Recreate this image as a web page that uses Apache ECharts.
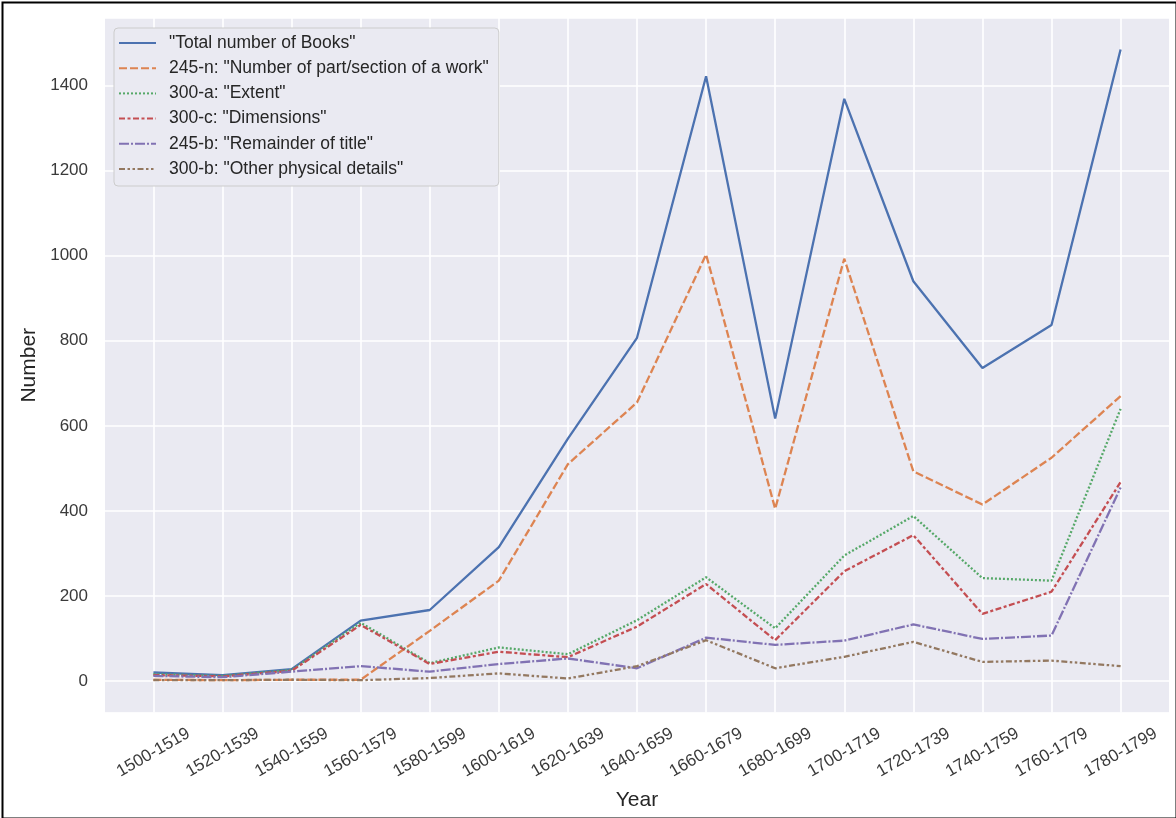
<!DOCTYPE html>
<html>
<head>
<meta charset="utf-8">
<script src="https://cdn.jsdelivr.net/npm/echarts@6/dist/echarts.min.js"></script>
<style>
html,body{margin:0;padding:0;background:#fff;}
#chart{width:1176px;height:818px;}
</style>
</head>
<body>
<div id="chart"></div>
<script>
// ---- data ----
const categories = ['1500-1519','1520-1539','1540-1559','1560-1579','1580-1599','1600-1619','1620-1639','1640-1659','1660-1679','1680-1699','1700-1719','1720-1739','1740-1759','1760-1779','1780-1799'];
const seriesNames = ['"Total number of Books"', '245-n: "Number of part/section of a work"', '300-a: "Extent"', '300-c: "Dimensions"', '245-b: "Remainder of title"', '300-b: "Other physical details"'];
const totalBooks   = [20, 14, 28, 142, 167, 315, 570, 807, 1422, 617, 1369, 940, 736, 837, 1485];
const partSection  = [3, 2, 3, 3, 118, 236, 510, 655, 1003, 405, 993, 493, 415, 525, 670];
const extent       = [16, 12, 26, 137, 42, 79, 63, 143, 244, 124, 295, 388, 242, 236, 640];
const dimensions   = [14, 11, 24, 132, 40, 69, 56, 128, 228, 96, 258, 343, 158, 210, 468];
const remainder    = [12, 9, 22, 35, 22, 40, 53, 30, 102, 85, 95, 133, 99, 107, 455];
const otherDetails = [2, 2, 3, 2, 7, 18, 6, 35, 96, 30, 57, 92, 45, 48, 35];
const yMin = -74, yMax = 1559;

// ---- styles ----
const colors = ['#4c72b0', '#dd8452', '#55a868', '#c44e52', '#8172b3', '#937860'];
const dashes = ['solid', [8, 3], [2, 2], [6, 2.5, 3, 2.5], [10, 2, 2, 2], [6, 2.5, 2.5, 2.5, 2.5, 2.5]];
const values = [totalBooks, partSection, extent, dimensions, remainder, otherDetails];
const FONT = '"Liberation Sans", Arial, sans-serif';

const chart = echarts.init(document.getElementById('chart'), null, {renderer: 'canvas'});

const series = values.map((v, i) => ({
  name: seriesNames[i],
  type: 'line',
  xAxisIndex: 1,
  yAxisIndex: 1,
  data: v,
  symbol: 'none',
  showSymbol: false,
  animation: false,
  lineStyle: {color: colors[i], width: 2.3, type: dashes[i]},
  itemStyle: {color: colors[i]},
  z: 3 + i
}));

chart.setOption({
  animation: false,
  backgroundColor: '#ffffff',
  textStyle: {fontFamily: FONT},
  graphic: [{
    type: 'rect', left: 0, top: 0, z: 100, silent: true,
    shape: {x: 1, y: 1, width: 1174, height: 816},
    style: {fill: null, stroke: '#000', lineWidth: 2}
  }],
  grid: [
    {left: 105, right: 7, top: 18, bottom: 105.5, show: true, backgroundColor: '#eaeaf2', borderWidth: 0, containLabel: false},
    {left: 153.4, right: 55.4, top: 18, bottom: 105.5, show: false, containLabel: false}
  ],
  xAxis: [
    {gridIndex: 0, type: 'value', min: 0, max: 1, show: false},
    {
      gridIndex: 1, type: 'category', data: categories, boundaryGap: false,
      axisLine: {show: false}, axisTick: {show: false},
      splitLine: {show: true, lineStyle: {color: '#ffffff', width: 1.6}},
      axisLabel: {rotate: 30, align: 'center', verticalAlign: 'middle', margin: 40, fontSize: 17, color: '#3a3a3a', fontFamily: FONT, interval: 0},
      name: 'Year', nameLocation: 'middle', nameGap: 77,
      nameTextStyle: {fontSize: 21, color: '#262626', fontFamily: FONT}
    }
  ],
  yAxis: [
    {
      gridIndex: 0, type: 'value', min: yMin, max: yMax, splitNumber: 8, minInterval: 200, maxInterval: 200,
      axisLine: {show: false}, axisTick: {show: false},
      splitLine: {show: true, lineStyle: {color: '#ffffff', width: 1.6}},
      axisLabel: {showMinLabel: false, showMaxLabel: false, margin: 17, fontSize: 17, color: '#3a3a3a', fontFamily: FONT,
                  formatter: (val) => String(val)},
      name: 'Number', nameLocation: 'middle', nameGap: 46,
      nameTextStyle: {fontSize: 21, color: '#262626', fontFamily: FONT}
    },
    {gridIndex: 1, type: 'value', min: yMin, max: yMax, show: false, splitLine: {show: false}}
  ],
  legend: {
    data: seriesNames,
    orient: 'vertical',
    left: 114, top: 28,
    padding: [6, 10, 8, 4],
    itemWidth: 37, itemHeight: 14, itemGap: 7.2,
    backgroundColor: '#eaeaf2',
    borderColor: '#cccccc', borderWidth: 1, borderRadius: 4,
    itemStyle: {color: 'rgba(0,0,0,0)', borderColor: 'rgba(0,0,0,0)', borderWidth: 0, opacity: 0},
    textStyle: {fontSize: 17.5, color: '#262626', fontFamily: FONT, padding: [0, 0, 0, 8]},
    selectedMode: false
  },
  series: series
});
</script>
</body>
</html>
